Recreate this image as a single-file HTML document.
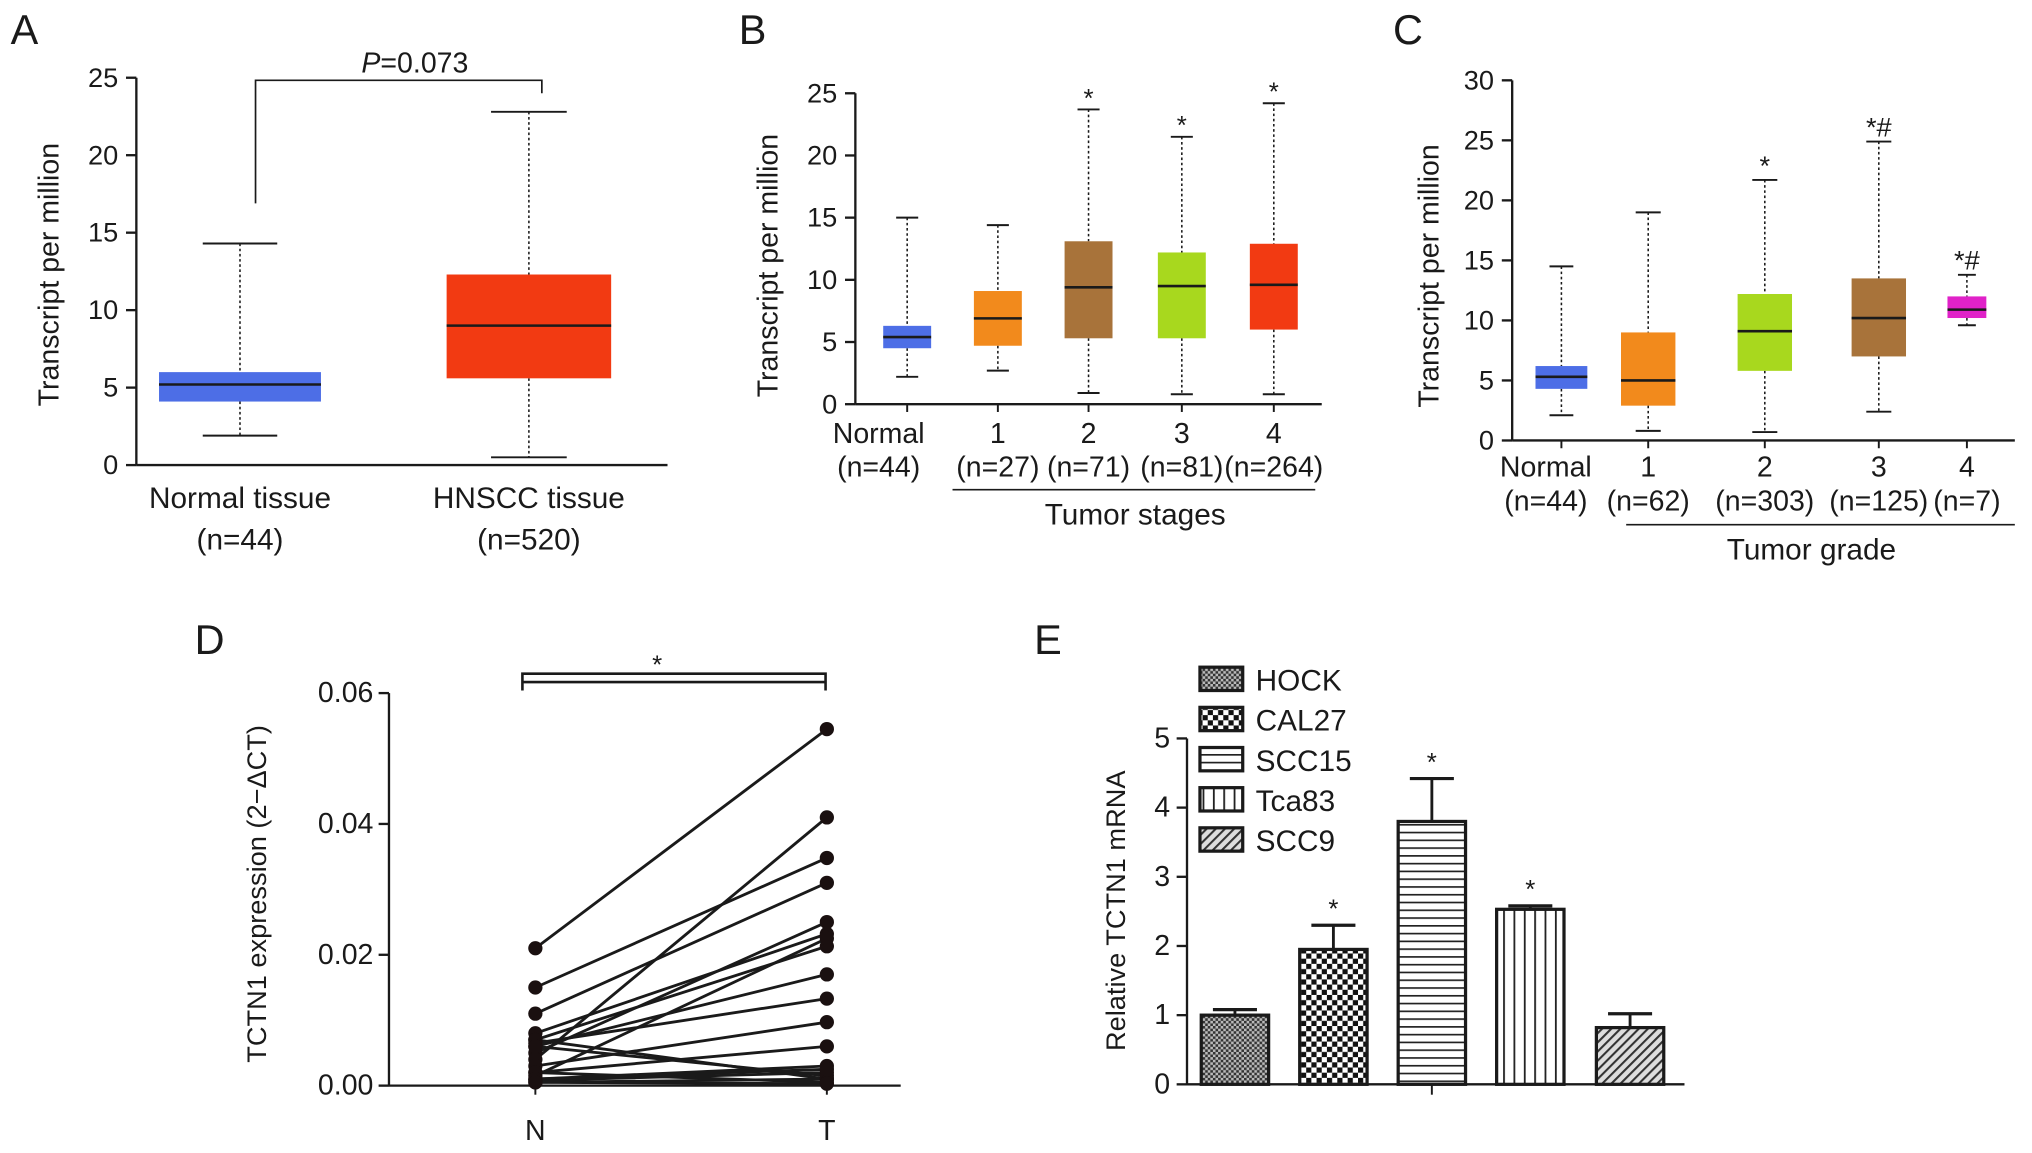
<!DOCTYPE html>
<html><head><meta charset="utf-8"><style>
html,body{margin:0;padding:0;background:#fff}
svg{display:block;font-family:"Liberation Sans",Arial,sans-serif}
</style></head><body>
<svg id="fig" width="2032" height="1153" viewBox="0 0 1568 890" xmlns="http://www.w3.org/2000/svg">
<defs>
<pattern id="pHock" width="4" height="4" patternUnits="userSpaceOnUse"><rect width="4" height="4" fill="#bbb"/><rect width="2" height="2" fill="#333"/><rect x="2" y="2" width="2" height="2" fill="#333"/></pattern>
<pattern id="pCal" width="8" height="8" patternUnits="userSpaceOnUse"><rect width="8" height="8" fill="#fff"/><rect width="4" height="4" fill="#111"/><rect x="4" y="4" width="4" height="4" fill="#111"/></pattern>
<pattern id="pScc15" width="6" height="6" patternUnits="userSpaceOnUse"><rect width="6" height="6" fill="#fff"/><rect y="0" width="6" height="1.3" fill="#222"/></pattern>
<pattern id="pTca" width="8" height="6" patternUnits="userSpaceOnUse"><rect width="8" height="6" fill="#fff"/><rect x="0" width="1.4" height="6" fill="#222"/></pattern>
<pattern id="pScc9" width="5" height="5" patternUnits="userSpaceOnUse" patternTransform="rotate(-45)"><rect width="5" height="5" fill="#ddd"/><rect width="5" height="1.6" fill="#333"/></pattern>
</defs>
<g id="root"></g>
</svg>
<script>
// ---------- data ----------
// Panel A
const aCats = ["Normal tissue", "HNSCC tissue"];
const aSub = ["(n=44)", "(n=520)"];
const aMin = [1.9, 0.5], aQ1 = [4.1, 5.6], aMed = [5.2, 9.0], aQ3 = [6.0, 12.3], aMax = [14.3, 22.8];
const aTicks = [0, 5, 10, 15, 20, 25];
const aColors = ["#4d6ee6", "#f23a12"];
// Panel B
const bCats = ["Normal", "1", "2", "3", "4"];
const bSub = ["(n=44)", "(n=27)", "(n=71)", "(n=81)", "(n=264)"];
const bMin = [2.2, 2.7, 0.9, 0.8, 0.8], bQ1 = [4.5, 4.7, 5.3, 5.3, 6.0], bMed = [5.4, 6.9, 9.4, 9.5, 9.6], bQ3 = [6.3, 9.1, 13.1, 12.2, 12.9], bMax = [15.0, 14.4, 23.7, 21.5, 24.2];
const bMarks = ["", "", "*", "*", "*"];
const bTicks = [0, 5, 10, 15, 20, 25];
const bColors = ["#4d6ee6", "#f28a1c", "#a8733a", "#a8d81e", "#f23a12"];
// Panel C
const cCats = ["Normal", "1", "2", "3", "4"];
const cSub = ["(n=44)", "(n=62)", "(n=303)", "(n=125)", "(n=7)"];
const cMin = [2.1, 0.8, 0.7, 2.4, 9.6], cQ1 = [4.3, 2.9, 5.8, 7.0, 10.2], cMed = [5.3, 5.0, 9.1, 10.2, 10.9], cQ3 = [6.2, 9.0, 12.2, 13.5, 12.0], cMax = [14.5, 19.0, 21.7, 24.9, 13.8];
const cMarks = ["", "", "*", "*#", "*#"];
const cTicks = [0, 5, 10, 15, 20, 25, 30];
const cColors = ["#4d6ee6", "#f28a1c", "#a8d81e", "#a8733a", "#e022c8"];
// Panel D
const dN = [0.021, 0.015, 0.011, 0.008, 0.007, 0.0065, 0.006, 0.005, 0.004, 0.003, 0.002, 0.0015, 0.001, 0.0008, 0.0005, 0.007, 0.006, 0.002, 0.001, 0.0005];
const dT = [0.0545, 0.0348, 0.031, 0.0232, 0.0213, 0.0133, 0.017, 0.025, 0.041, 0.0097, 0.006, 0.0225, 0.003, 0.002, 0.001, 0.001, 0.0015, 0.0005, 0.0025, 0.0003];
const dTicks = [0, 0.02, 0.04, 0.06];
const dTickLabels = ["0.00", "0.02", "0.04", "0.06"];
// Panel E
const eCats = ["HOCK", "CAL27", "SCC15", "Tca83", "SCC9"];
const eVals = [1.0, 1.95, 3.8, 2.53, 0.82];
const eErr = [0.08, 0.35, 0.62, 0.05, 0.2];
const eMarks = ["", "*", "*", "*", ""];
const eTicks = [0, 1, 2, 3, 4, 5];
const eFills = ["url(#pHock)", "url(#pCal)", "url(#pScc15)", "url(#pTca)", "url(#pScc9)"];

// ---------- helpers ----------
const NS = "http://www.w3.org/2000/svg";
const root = document.getElementById("root");
function el(tag, attrs, parent) {
  const e = document.createElementNS(NS, tag);
  for (const k in attrs) e.setAttribute(k, attrs[k]);
  (parent || root).appendChild(e);
  return e;
}
function txt(s, x, y, size, anchor, parent, extra) {
  const t = el("text", Object.assign({x: x, y: y, "font-size": size, "text-anchor": anchor || "middle", fill: "#1a1a1a"}, extra || {}), parent);
  t.textContent = s;
  return t;
}
function line(x1, y1, x2, y2, w, parent, dash) {
  const a = {x1: x1, y1: y1, x2: x2, y2: y2, stroke: "#1a1a1a", "stroke-width": w || 1.5};
  if (dash) a["stroke-dasharray"] = dash;
  return el("line", a, parent);
}
function yAxis(g, x, y0, y1, vmax, ticks, labels, fs, off) {
  const sc = v => y0 - (v / vmax) * (y0 - y1);
  line(x, y0, x, y1, 1.8, g);
  ticks.forEach((t, i) => {
    line(x - 8, sc(t), x, sc(t), 1.8, g);
    const lb = txt(labels ? labels[i] : String(t), x - (off || 12), sc(t) + 7, fs || 21, "end", g);
    
    
  });
  return sc;
}
function boxplot(g, cx, w, mn, q1, md, q3, mx, sc, color, i) {
  const wg = el("g", {}, g);
  
  
  line(cx, sc(mx), cx, sc(q3), 1.2, wg, "2,2");
  line(cx, sc(q1), cx, sc(mn), 1.2, wg, "2,2");
  line(cx - w * 0.23, sc(mx), cx + w * 0.23, sc(mx), 1.5, wg);
  line(cx - w * 0.23, sc(mn), cx + w * 0.23, sc(mn), 1.5, wg);
  el("rect", {x: cx - w / 2, y: sc(q3), width: w, height: sc(q1) - sc(q3), fill: color}, wg);
  line(cx - w / 2, sc(md), cx + w / 2, sc(md), 2, wg);
}
function panelLabel(s, x, y) {
  const t = txt(s, x, y, 32, "start");
  
  
}
function yTitle(g, s, x, y, fs) {
  const t = txt(s, x, y, fs || 22, "middle", g, {transform: "rotate(-90 " + x + " " + y + ")"});
  
  
}

// ---------- Panel A ----------
{
  const g = el("g", {});
  
  
  panelLabel("A", 8, 34);
  const sc = yAxis(g, 105, 359, 60, 25, aTicks, null, 21, 14);
  line(105, 359, 515, 359, 1.8, g);
  yTitle(g, "Transcript per million", 45, 212);
  const cx = [185, 408], w = [125, 127];
  aCats.forEach((c, i) => {
    boxplot(g, cx[i], w[i], aMin[i], aQ1[i], aMed[i], aQ3[i], aMax[i], sc, aColors[i], i);
    const t1 = txt(c, cx[i], 392, 23, "middle", g);
    
    
    const t2 = txt(aSub[i], cx[i], 424, 23, "middle", g);
    
    
  });
  const br = el("path", {d: "M197 157 V62 H418 V72", fill: "none", stroke: "#1a1a1a", "stroke-width": 1.3}, g);
  
  
  const p = el("text", {x: 320, y: 56, "font-size": 22, "text-anchor": "middle", fill: "#1a1a1a"}, g);
  p.innerHTML = '<tspan font-style="italic">P</tspan>=0.073';
  
  
}

// ---------- Panel B ----------
{
  const g = el("g", {});
  
  
  panelLabel("B", 570, 34);
  const sc = yAxis(g, 660, 312, 72, 25, bTicks, null, 21, 14);
  line(660, 312, 1020, 312, 1.8, g);
  yTitle(g, "Transcript per million", 600, 205);
  const cx = [700, 770, 840, 912, 983];
  bCats.forEach((c, i) => {
    boxplot(g, cx[i], 37, bMin[i], bQ1[i], bMed[i], bQ3[i], bMax[i], sc, bColors[i], i);
    line(cx[i], 312, cx[i], 318, 1.5, g);
    const t1 = txt(c, cx[i] - (i === 0 ? 22 : 0), 342, 22, "middle", g);
    
    
    const t2 = txt(bSub[i], cx[i] - (i === 0 ? 22 : 0), 368, 22, "middle", g);
    
    
    if (bMarks[i]) {
      const m = txt(bMarks[i], cx[i], sc(bMax[i]) - 2, 20, "middle", g);
      
      
    }
  });
  line(735, 378, 1015, 378, 1.3, g);
  const tt = txt("Tumor stages", 876, 405, 23, "middle", g);
  
  
}

// ---------- Panel C ----------
{
  const g = el("g", {});
  
  
  panelLabel("C", 1075, 34);
  const sc = yAxis(g, 1167, 340, 62, 30, cTicks, null, 21, 14);
  line(1167, 340, 1555, 340, 1.8, g);
  yTitle(g, "Transcript per million", 1110, 213);
  const cx = [1205, 1272, 1362, 1450, 1518], w = [40, 42, 42, 42, 30];
  cCats.forEach((c, i) => {
    boxplot(g, cx[i], w[i], cMin[i], cQ1[i], cMed[i], cQ3[i], cMax[i], sc, cColors[i], i);
    line(cx[i], 340, cx[i], 346, 1.5, g);
    const t1 = txt(c, cx[i] - (i === 0 ? 12 : 0), 368, 22, "middle", g);
    
    
    const t2 = txt(cSub[i], cx[i] - (i === 0 ? 12 : 0), 394, 22, "middle", g);
    
    
    if (cMarks[i]) {
      const m = txt(cMarks[i], cx[i], sc(cMax[i]) - 4, 21, "middle", g);
      
      
    }
  });
  line(1255, 405, 1555, 405, 1.3, g);
  const tt = txt("Tumor grade", 1398, 432, 23, "middle", g);
  
  
}

// ---------- Panel D ----------
{
  const g = el("g", {});
  
  
  panelLabel("D", 150, 505);
  const sc = yAxis(g, 300, 838, 535, 0.06, dTicks, dTickLabels, 22, 12);
  line(300, 838, 695, 838, 1.8, g);
  yTitle(g, "TCTN1 expression (2−ΔCT)", 205, 690, 21);
  const xN = 413, xT = 638;
  line(xN, 838, xN, 845, 1.5, g); line(xT, 838, xT, 845, 1.5, g);
  const l1 = txt("N", xN, 880, 22, "middle", g);
   
  const l2 = txt("T", xT, 880, 22, "middle", g);
   
  dN.forEach((n, i) => {
    const ln = line(xN, sc(n), xT, sc(dT[i]), 2.2, g);
    
    
  });
  dN.forEach((n, i) => {
    const c1 = el("circle", {cx: xN, cy: sc(n), r: 5.5, fill: "#1a1010"}, g);
    
    
    const c2 = el("circle", {cx: xT, cy: sc(dT[i]), r: 5.5, fill: "#1a1010"}, g);
    
    
  });
  const br = el("path", {d: "M403 533 V520 H637 V533 M403 526.5 H637", fill: "none", stroke: "#1a1a1a", "stroke-width": 2}, g);
  
  
  const s = txt("*", 507, 520, 20, "middle", g);
  
  
}

// ---------- Panel E ----------
{
  const g = el("g", {});
  
  
  panelLabel("E", 798, 505);
  const sc = yAxis(g, 916, 837, 570, 5, eTicks, null, 22, 13);
  line(916, 837, 1300, 837, 1.8, g);
  line(1105, 837, 1105, 845, 1.5, g);
  yTitle(g, "Relative TCTN1 mRNA", 868, 703, 21);
  const cx = [953, 1029, 1105, 1181, 1258], w = 52;
  eVals.forEach((v, i) => {
    const top = sc(v + eErr[i]);
    line(cx[i], sc(v), cx[i], top, 2.2, g);
    line(cx[i] - 17, top, cx[i] + 17, top, 2.5, g);
    const r = el("rect", {x: cx[i] - w / 2, y: sc(v), width: w, height: 837 - sc(v), fill: eFills[i], stroke: "#1a1a1a", "stroke-width": 2.5}, g);
    
    
    if (eMarks[i]) {
      const m = txt(eMarks[i], cx[i], top - 6, 20, "middle", g);
      
      
    }
  });
  eCats.forEach((c, i) => {
    const y = 525 + i * 31;
    const lg = el("g", {}, g);
    
    
    el("rect", {x: 926, y: y - 10, width: 33, height: 18, fill: eFills[i], stroke: "#1a1a1a", "stroke-width": 2.5}, lg);
    txt(c, 969, y + 8, 23, "start", lg);
  });
}
</script>
</body></html>
